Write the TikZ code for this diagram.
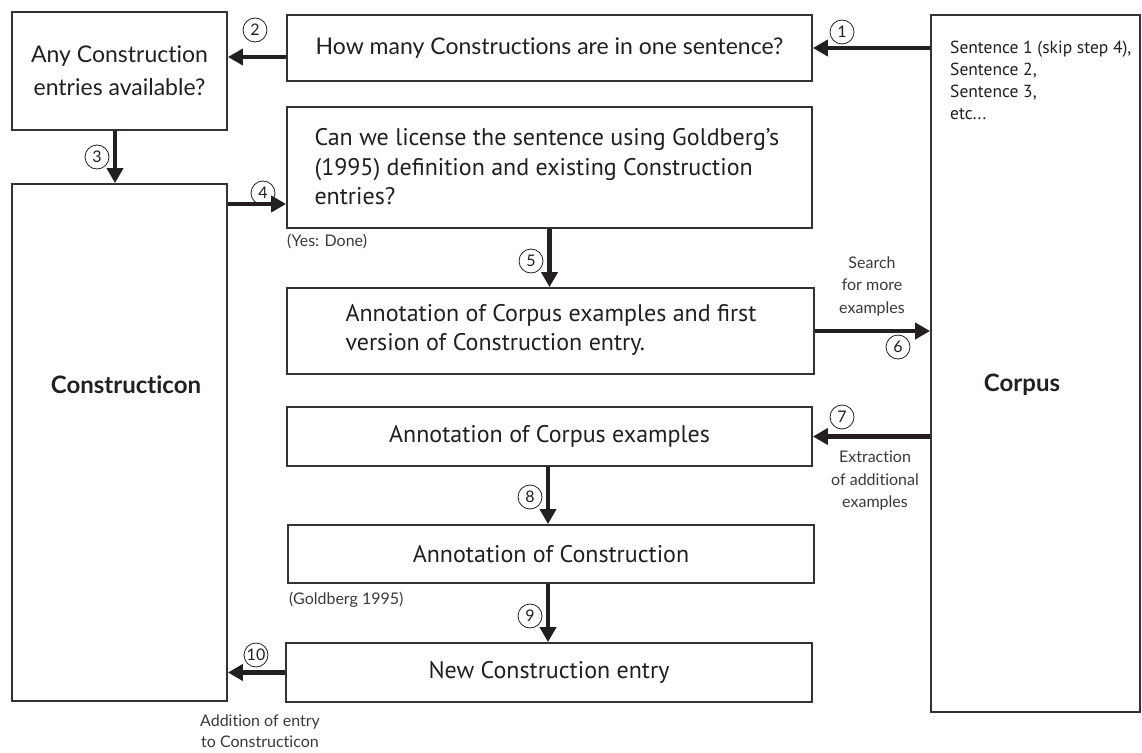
\documentclass[tikz,border=0pt]{standalone}
\usepackage{fontspec}
\setmainfont{Lato}[Ligatures=NoCommon]
\newfontfamily\myr{PT Sans}
\usetikzlibrary{arrows.meta}
\definecolor{ink}{HTML}{231F20}
\definecolor{frame}{HTML}{333333}
\definecolor{soft}{HTML}{3A3A3A}
\begin{document}
\begin{tikzpicture}[x=1pt,y=-1pt,
  box/.style={draw=frame, line width=1.8pt, inner sep=0pt, text=ink},
  gtext/.style={font=\fontsize{23}{33}\selectfont, text=ink, align=center},
  mtext/.style={font=\myr\fontsize{24}{29.5}\selectfont, text=ink},
  arr/.style={line width=4.8pt, draw=ink, -{Triangle[length=15pt,width=16pt]}},
  num/.style={circle, draw=ink, line width=0.8pt, minimum size=24pt, inner sep=0pt, font=\fontsize{16}{16}\selectfont, text=ink},
  lbl/.style={font=\fontsize{16}{22.5}\selectfont, text=soft, align=center},
  bigbold/.style={font=\bfseries\fontsize{24}{28}\selectfont, text=ink},
]
\useasboundingbox (0,0) rectangle (1142,752);
\fill[white] (0,0) rectangle (1142,752);

% boxes
\node[box, gtext, minimum width=215pt, minimum height=118pt] (anyq) at (119.5,71) {Any Construction\\entries available?};
\node[box, gtext, minimum width=525pt, minimum height=66pt] (howmany) at (549.5,48) {How many Constructions are in one sentence?};
\node[box, minimum width=209pt, minimum height=697pt] (corpus) at (1035.5,363.5) {};
\node[box, minimum width=215pt, minimum height=517pt] (cxn) at (119.5,442.5) {};
\node[box, minimum width=525pt, minimum height=121pt] (license) at (549.5,167.5) {};
\node[box, minimum width=527pt, minimum height=86pt] (annfirst) at (550.5,331) {};
\node[box, mtext, minimum width=525pt, minimum height=59pt] (anncorp) at (549.5,436.5) {Annotation of Corpus examples};
\node[box, mtext, minimum width=526pt, minimum height=58pt] (anncxn) at (551,554) {Annotation of Construction};
\node[box, mtext, minimum width=526pt, minimum height=59pt] (newentry) at (549,672.5) {New Construction entry};

% texts inside boxes
\node[mtext, anchor=west, align=left] (licensetxt) at (311,167) {Can we license the sentence using Goldberg’s\\(1995) definition and existing Construction\\entries?};
\node[mtext, anchor=west, align=left] (annfirsttxt) at (342,330) {Annotation of Corpus examples and first\\version of Construction entry.};
\node[bigbold] (cxntxt) at (126,385) {Constructicon};
\node[bigbold] (corpustxt) at (1022,385) {Corpus};
\node[font=\myr\fontsize{17.5}{22}\selectfont, text=ink, anchor=north west, align=left, inner sep=0pt] (sentences) at (950,41) {Sentence 1 (skip step 4),\\Sentence 2,\\Sentence 3,\\etc...};

% connectors
\coordinate (a2) at (287,57);
\coordinate (a4) at (287,204);
\draw[arr] (corpus.west |- howmany.east) -- (howmany.east);
\draw[arr] (howmany.west |- a2) -- (anyq.east |- a2);
\draw[arr] (anyq.south -| 115,0) -- (cxn.north -| 115,0);
\draw[arr] (cxn.east |- a4) -- (license.west |- a4);
\draw[arr] (license.south) -- (license.south |- annfirst.north);
\draw[arr] (annfirst.east) -- (corpus.west |- annfirst.east);
\draw[arr] (corpus.west |- anncorp.east) -- (anncorp.east);
\draw[arr] (anncorp.south -| 548,0) -- (anncxn.north -| 548,0);
\draw[arr] (anncxn.south -| 548,0) -- (newentry.north -| 548,0);
\draw[arr] (newentry.west) -- (cxn.east |- newentry.west);

% step numbers
\node[num] (n1) at (842,32) {1};
\node[num] (n2) at (255,30) {2};
\node[num] (n3) at (97,157) {3};
\node[num] (n4) at (263,193) {4};
\node[num] (n5) at (531,261) {5};
\node[num] (n6) at (898,347) {6};
\node[num] (n7) at (842,417) {7};
\node[num] (n8) at (530,497) {8};
\node[num] (n9) at (530,616) {9};
\node[num] (n10) at (256,655) {10};

% side labels
\node[lbl, anchor=west, inner xsep=0pt] (yesdone) at (287,241) {(Yes: Done)};
\node[lbl, anchor=west, inner xsep=0pt] (goldberg) at (289,600) {(Goldberg 1995)};
\node[lbl] (search) at (872,286) {Search\\for more\\examples};
\node[lbl] (extract) at (875,481) {Extraction\\of additional\\examples};
\node[lbl, font=\fontsize{16}{21}\selectfont] (addition) at (260,731) {Addition of entry\\to Constructicon};
\end{tikzpicture}
\end{document}
